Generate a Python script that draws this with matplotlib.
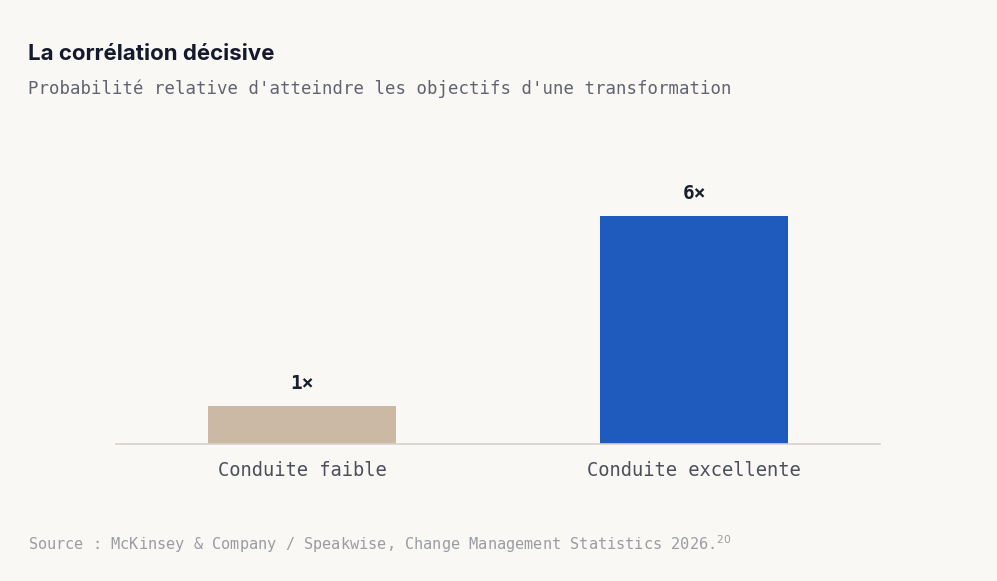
import matplotlib.pyplot as plt

categories = ['Conduite faible', 'Conduite excellente']
values = [1, 6]
labels = ['1×', '6×']
colors = ['#cbb9a6', '#1e5bbd']

bg = '#faf8f5'
fig = plt.figure(figsize=(9.97, 5.81), dpi=100, facecolor=bg)
W, H = 997, 581
ax = fig.add_axes([116 / W, (H - 444) / H, (880 - 116) / W, 294 / H], facecolor=bg)

x = range(len(categories))
ax.bar(x, values, width=0.48, color=colors)
for i, v in enumerate(values):
    ax.text(i, v + 0.35, labels[i], ha='center', va='bottom', fontsize=14,
            fontweight='bold', family='DejaVu Sans Mono', color='#1a1f2e')

ax.set_xlim(-186 / 392, 1 + 186 / 392)
ax.set_ylim(0, 294 / 38)
for s in ['top', 'right', 'left']:
    ax.spines[s].set_visible(False)
ax.spines['bottom'].set_color('#d8d2ca')
ax.spines['bottom'].set_linewidth(1.2)
ax.set_yticks([])
ax.set_xticks(list(x))
ax.set_xticklabels(categories, family='DejaVu Sans Mono', fontsize=13.5, color='#4a4f5a')
ax.tick_params(axis='x', length=0, pad=12)

fig.text(28 / W, 1 - 54 / H, 'La corrélation décisive', fontsize=16, fontweight='bold',
         family='Inter', color='#141a2b', va='center', ha='left')
fig.text(28 / W, 1 - 89 / H, "Probabilité relative d'atteindre les objectifs d'une transformation",
         fontsize=12.5, family='DejaVu Sans Mono', color='#5f6470', va='center', ha='left')
fig.text(28 / W, 1 - 544 / H,
         'Source : McKinsey & Company / Speakwise, Change Management Statistics 2026.$^{20}$',
         fontsize=11, family='DejaVu Sans Mono', color='#9a9ca2', va='center', ha='left')

fig.savefig('out.png', dpi=100, facecolor=bg)
